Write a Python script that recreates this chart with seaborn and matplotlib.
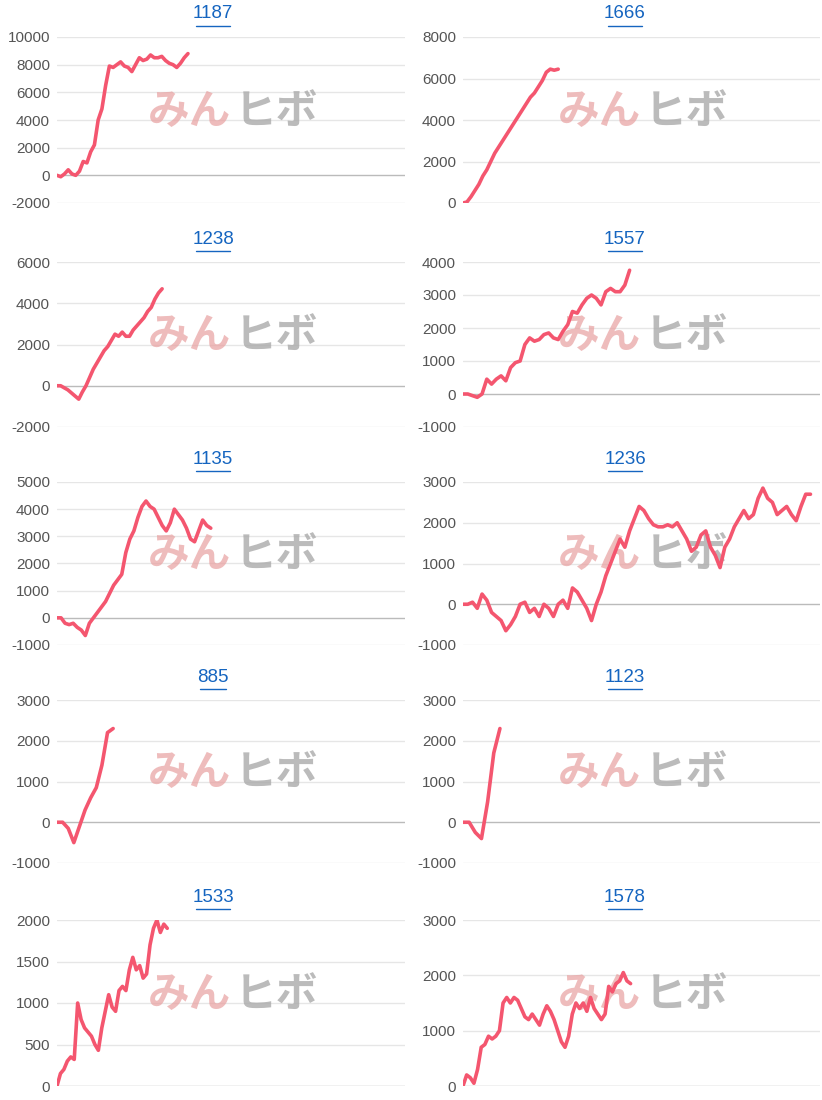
import matplotlib
matplotlib.use("Agg")
import matplotlib.pyplot as plt
import seaborn as sns
import numpy as np
import pandas as pd

sns.set_theme(style="white")
plt.rcParams['font.family'] = ['Liberation Sans', 'Noto Sans CJK JP']
plt.rcParams['axes.unicode_minus'] = False

titles = ["1187", "1666", "1238", "1557", "1135", "1236", "885", "1123", "1533", "1578"]

s1187 = [0, -100, 100, 400, 100, 0, 300, 1000, 900, 1700, 2200, 4000, 4800, 6500, 7900, 7800, 8000, 8200, 7900, 7800,
         7500, 8000, 8500, 8300, 8400, 8700, 8500, 8500, 8600, 8300, 8100, 8000, 7800, 8100, 8500, 8800]
s1666 = [0, 50, 300, 600, 900, 1300, 1600, 2000, 2400, 2700, 3000, 3300, 3600, 3900, 4200, 4500, 4800, 5100, 5300,
         5600, 5900, 6300, 6450, 6400, 6450]
s1238 = [0, 0, -100, -200, -350, -500, -650, -300, 0, 400, 800, 1100, 1400, 1700, 1900, 2200, 2500, 2400, 2600,
         2400, 2400, 2700, 2900, 3100, 3300, 3600, 3800, 4200, 4500, 4700]
s1557 = [0, 0, -50, -100, 0, 450, 300, 450, 550, 400, 800, 950, 1000, 1500, 1700, 1600, 1650, 1800, 1850, 1700,
         1650, 1900, 2100, 2500, 2450, 2700, 2900, 3000, 2900, 2700, 3100, 3200, 3100, 3100, 3300, 3750]
s1135 = [0, 0, -200, -250, -200, -350, -450, -650, -200, 0, 200, 400, 600, 900, 1200, 1400, 1600, 2400, 2900,
         3200, 3700, 4100, 4300, 4100, 4000, 3700, 3400, 3200, 3500, 4000, 3800, 3600, 3300, 2900, 2800, 3200, 3600, 3400, 3300]
s1236 = [0, 0, 50, -100, 250, 100, -200, -300, -400, -650, -500, -300, 0, 50, -200, -100, -300, 0, -100, -300, 0,
         100, -100, 400, 300, 100, -100, -400, 0, 300, 700, 1000, 1300, 1600, 1400, 1800, 2100, 2400, 2300, 2100,
         1950, 1900, 1900, 1950, 1900, 2000, 1800, 1600, 1300, 1400, 1700, 1800, 1400, 1200, 900, 1400, 1600, 1900,
         2100, 2300, 2100, 2200, 2600, 2850, 2600, 2500, 2200, 2300, 2400, 2200, 2050, 2400, 2700, 2700]
s885 = [0, 0, -150, -500, -100, 300, 600, 850, 1400, 2200, 2300]
s1123 = [0, 0, -250, -400, 500, 1700, 2300]
s1533 = [0, 150, 200, 300, 350, 320, 1000, 800, 700, 650, 600, 500, 430, 700, 900, 1100, 950, 900, 1150, 1200,
         1150, 1400, 1550, 1400, 1450, 1300, 1350, 1700, 1900, 2000, 1850, 1950, 1900]
s1578 = [0, 200, 150, 50, 300, 700, 750, 900, 850, 900, 1000, 1500, 1600, 1500, 1600, 1550, 1400, 1250, 1200,
         1300, 1200, 1100, 1300, 1450, 1350, 1200, 1000, 800, 700, 900, 1300, 1500, 1400, 1500, 1350, 1600, 1400,
         1300, 1200, 1300, 1800, 1700, 1850, 1900, 2050, 1900, 1850]
series = [s1187, s1666, s1238, s1557, s1135, s1236, s885, s1123, s1533, s1578]

yticks = [[-2000, 0, 2000, 4000, 6000, 8000, 10000], [0, 2000, 4000, 6000, 8000],
          [-2000, 0, 2000, 4000, 6000], [-1000, 0, 1000, 2000, 3000, 4000],
          [-1000, 0, 1000, 2000, 3000, 4000, 5000], [-1000, 0, 1000, 2000, 3000],
          [-1000, 0, 1000, 2000, 3000], [-1000, 0, 1000, 2000, 3000],
          [0, 500, 1000, 1500, 2000], [0, 1000, 2000, 3000]]
xspan = [93, 90, 96, 75, 86, 75, 62, 58, 101, 98]

fig = plt.figure(figsize=(8.22, 11), dpi=100)
W, H = 822, 1100
rows_top = [37, 262, 482, 700, 920]
rows_bot = [203, 427, 645, 863, 1086]
cols = [(57, 405), (463, 820)]
title_cx = [213, 625]

for i, (t, s) in enumerate(zip(titles, series)):
    r, c = divmod(i, 2)
    x0, x1 = cols[c]
    ax = fig.add_axes([x0 / W, 1 - rows_bot[r] / H, (x1 - x0) / W, (rows_bot[r] - rows_top[r]) / H])
    df = pd.DataFrame({"x": np.arange(len(s)), "y": s})
    sns.lineplot(data=df, x="x", y="y", ax=ax, color="#f4566f", linewidth=2.6, zorder=3)
    yt = yticks[i]
    ax.set_ylim(yt[0], yt[-1])
    ax.set_yticks(yt)
    ax.set_xlim(0, xspan[i])
    ax.set_xticks([])
    ax.set_xlabel(""); ax.set_ylabel("")
    for y in yt:
        ax.axhline(y, color="#bbbbbb" if y == 0 else "#e6e6e6", lw=1, zorder=1)
    for sp in ax.spines.values():
        sp.set_visible(False)
    ax.tick_params(axis="y", labelsize=11, colors="#555555", length=0, pad=5)
    ax.text(0.5, 0.55, "みん", transform=ax.transAxes, ha="right", va="center", fontsize=30,
            fontweight="bold", color="#e8a0a0", alpha=0.7, family="Noto Sans CJK JP", zorder=2)
    ax.text(0.51, 0.55, "ヒボ", transform=ax.transAxes, ha="left", va="center", fontsize=30,
            fontweight="bold", color="#aaaaaa", alpha=0.8, family="Noto Sans CJK JP", zorder=2)
    cx = title_cx[c]
    fig.text(cx / W, 1 - (rows_top[r] - 23) / H, t, ha="center", va="center",
             fontsize=13.5, color="#1565c0")
    tw = len(t) * 8.4
    yy = 1 - (rows_top[r] - 11) / H
    fig.add_artist(plt.Line2D([(cx - tw / 2) / W, (cx + tw / 2) / W], [yy, yy], color="#1565c0", lw=1))

fig.savefig("out.png", dpi=100)
